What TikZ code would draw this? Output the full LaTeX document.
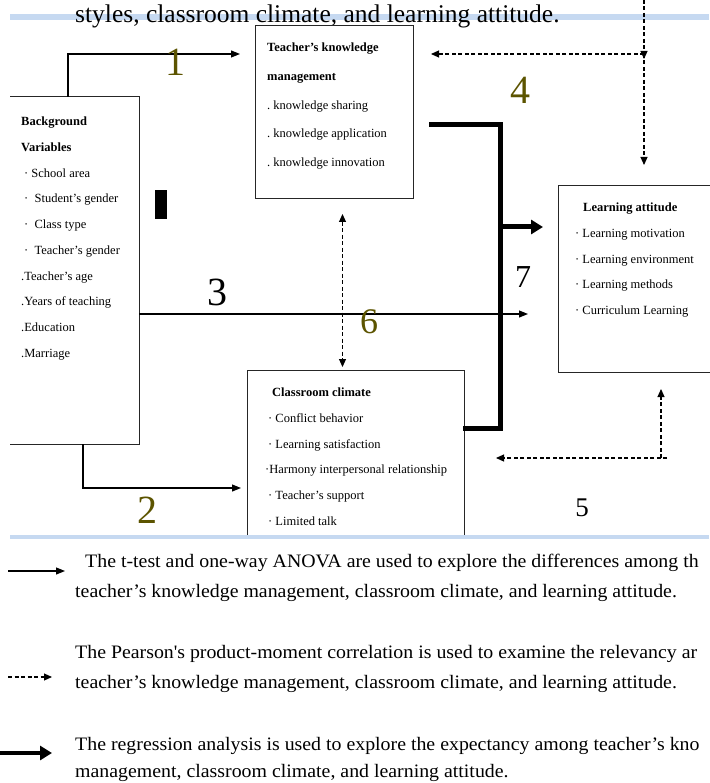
\documentclass[tikz,border=0pt]{standalone}
\usepackage{fontspec}
\setmainfont{Liberation Serif}
\newfontfamily\legendfont[FakeStretch=1.045]{Liberation Serif}
\usepackage{xcolor}
\usetikzlibrary{arrows.meta, positioning}

\definecolor{olivenum}{RGB}{92,84,0}
\definecolor{wordblue}{RGB}{198,217,241}

\begin{document}
\begin{tikzpicture}[
  x=1pt, y=-1pt,
  font=\fontsize{12.5}{25.7}\selectfont,
  box/.style={
    draw=black!85,
    line width=1pt,
    inner sep=0pt,
    anchor=north west
  },
  boxline/.style={
    draw=black!85,
    line width=1pt
  },
  boxtext/.style={
    inner sep=0pt,
    anchor=north west,
    align=left
  },
  flow/.style={
    -{Triangle[length=9pt,width=7pt]},
    line width=1.1pt
  },
  corr/.style={
    -{Triangle[length=8pt,width=7pt]},
    line width=1.1pt,
    dash pattern=on 4pt off 2.5pt
  },
  corrboth/.style={
    {Triangle[length=8pt,width=7pt]}-{Triangle[length=8pt,width=7pt]},
    line width=1.1pt,
    dash pattern=on 4pt off 2.5pt
  },
  regr/.style={
    line width=5pt,
    line cap=rect
  },
  regrarrow/.style={
    -{Triangle[length=12pt,width=14pt]},
    line width=5pt
  },
  num/.style={
    font=\fontsize{#1}{#1}\selectfont,
    inner sep=0pt
  },
  legend/.style={
    font=\legendfont\fontsize{19}{30}\selectfont,
    anchor=base west,
    inner sep=0pt
  }
]

\useasboundingbox (0,0) rectangle (709,783);

% --- Page marks -------------------------------------------------------

\fill[wordblue] (10,14) rectangle (709,20);

\node[anchor=base west, inner sep=0pt, font=\fontsize{25.5}{30}\selectfont] (headline) at (75,23)
{styles, classroom climate, and learning attitude.};

% --- Boxes -------------------------------------------------------------

\node[minimum width=129pt, minimum height=347pt, inner sep=0pt, anchor=north west] (bg) at (10,97) {};
\draw[boxline] (bg.north west) -- (bg.north east) -- (bg.south east) -- (bg.south west);

\node[boxtext] (bgtext) at (21,117)
{\textbf{Background}\\
 \textbf{Variables}\\
 \hspace*{3pt}· School area\\
 \hspace*{3pt}·~~Student’s gender\\
 \hspace*{3pt}·~~Class type\\
 \hspace*{3pt}·~~Teacher’s gender\\
 .Teacher’s age\\
 .Years of teaching\\
 .Education\\
 .Marriage};

\node[box, minimum width=158pt, minimum height=173pt] (tkm) at (255,25) {};

\node[boxtext, font=\fontsize{12.5}{28.6}\selectfont] (tkmtext) at (267,43)
{\textbf{Teacher’s knowledge}\\
 \textbf{management}\\
 .~knowledge sharing\\
 .~knowledge application\\
 .~knowledge innovation};

\node[box, minimum width=170pt, minimum height=187pt] (la) at (558,185) {};

\node[boxtext] (latext) at (575,203)
{\hspace*{8pt}\textbf{Learning attitude}\\
 · Learning motivation\\
 · Learning environment\\
 · Learning methods\\
 · Curriculum Learning};

\begin{scope}
  \clip (0,0) rectangle (709,536);
  \node[box, minimum width=217pt, minimum height=200pt] (cc) at (247,370) {};
\end{scope}

\node[boxtext] (cctext) at (265,388)
{\hspace*{7pt}\textbf{Classroom climate}\\
 \hspace*{3pt}· Conflict behavior\\
 \hspace*{3pt}· Learning satisfaction\\
 ·Harmony interpersonal relationship\\
 \hspace*{3pt}· Teacher’s support\\
 \hspace*{3pt}· Limited talk};

\node[fill=black, inner sep=0pt, minimum width=12pt, minimum height=29pt, anchor=north west] (selmark) at (155,190) {};

% --- Flows -------------------------------------------------------------

% 1: background -> knowledge management
\draw[flow] ([xshift=58pt]bg.north west) |- ([xshift=-15pt,yshift=-29pt]tkm.north west);

% 2: background -> classroom climate
\draw[flow] ([xshift=73pt]bg.south west) |- ([xshift=-6pt,yshift=-118pt]cc.north west);

% 3: background -> learning attitude
\draw[flow] ([yshift=-217pt]bg.north east) -- ([xshift=-30pt,yshift=-129pt]la.north west);

% 4: knowledge management <-> learning attitude
\coordinate (c4) at (644,54);
\coordinate (top4) at (644,0);
\draw[corr] (top4) -- ([yshift=-5pt]c4);
\draw[corr] (c4) -- ([xshift=17pt,yshift=-29pt]tkm.north east);
\draw[corr] (c4) -- ([yshift=20pt]c4 |- la.north);

% 5: classroom climate <-> learning attitude
\coordinate (c5) at (661,458);
\draw[corr] (c5) -- ([yshift=-16pt]la.south -| c5);
\draw[corr] ([xshift=6pt]c5) -- ([xshift=31pt]c5 -| cc.east);

% 6: knowledge management <-> classroom climate
\draw[corrboth] ([xshift=8pt,yshift=-15pt]tkm.south) -- ([xshift=-13.5pt,yshift=3pt]cc.north);

% 7: regression on learning attitude
\coordinate (c7) at (500,428);
\coordinate (j7) at (500,227);
\draw[regr] ([xshift=17pt,yshift=-100pt]tkm.north east) -| (c7) -- (c7 -| cc.east);
\draw[regrarrow] (j7) -- ([xshift=-15pt]la.west |- j7);

% --- Numbers -----------------------------------------------------------

\node[num=40, text=olivenum] (lab1) at (175,62) {1};
\node[num=40, text=olivenum] (lab2) at (147,510) {2};
\node[num=40] (lab3) at (217,292) {3};
\node[num=40, text=olivenum] (lab4) at (520,90) {4};
\node[num=27] (lab5) at (582,508) {5};
\node[num=36, text=olivenum] (lab6) at (369,322) {6};
\node[num=32] (lab7) at (523,277) {7};

% --- Legend ------------------------------------------------------------

\fill[wordblue] (10,535) rectangle (709,539);

\coordinate (lg1a) at (8,571);
\coordinate (lg1b) at (65,571);
\draw[flow] (lg1a) -- (lg1b);

\coordinate (lg2a) at (8,677);
\coordinate (lg2b) at (52,677);
\draw[corr] (lg2a) -- (lg2b);

\coordinate (lg3a) at (0,753);
\coordinate (lg3b) at (52,753);
\draw[regrarrow, line width=4pt] (lg3a) -- (lg3b);

\node[legend] (leg1) at (85,567)
{The t-test and one-way ANOVA are used to explore the differences among th};
\node[legend] (leg1b) at (75,597)
{teacher’s knowledge management, classroom climate, and learning attitude.};

\node[legend] (leg2) at (75,658)
{The Pearson\textquotesingle s product-moment correlation is used to examine the relevancy ar};
\node[legend] (leg2b) at (75,688)
{teacher’s knowledge management, classroom climate, and learning attitude.};

\node[legend] (leg3) at (75,750)
{The regression analysis is used to explore the expectancy among teacher’s kno};
\node[legend] (leg3b) at (75,777)
{management, classroom climate, and learning attitude.};

\end{tikzpicture}
\end{document}
